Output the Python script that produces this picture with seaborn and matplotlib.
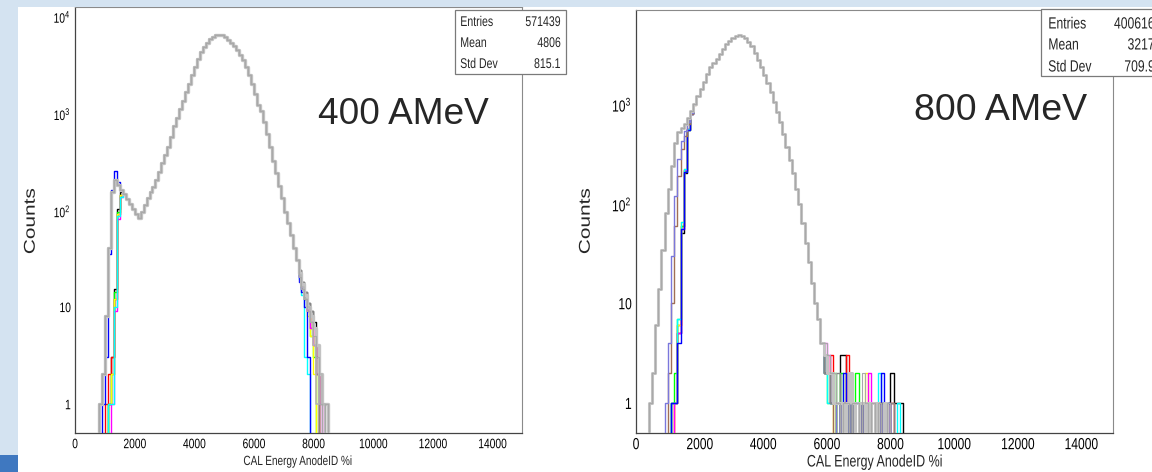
import numpy as np
import pandas as pd
import matplotlib
matplotlib.use("Agg")
import matplotlib.pyplot as plt
import seaborn as sns
from matplotlib.patches import Rectangle
from matplotlib import font_manager, patheffects
from matplotlib.transforms import Affine2D

# ------------------------------------------------------------------ data
bin_width = 100
x_major = [0, 2000, 4000, 6000, 8000, 10000, 12000, 14000]
x_major_labels = ["0", "2000", "4000", "6000", "8000", "10000", "12000", "14000"]
y_major = [1, 10, 100, 1000, 10000]
y_major_labels = ["1", "10", r"$\mathregular{10^{2}}$", r"$\mathregular{10^{3}}$", r"$\mathregular{10^{4}}$"]
x_title = "CAL Energy AnodeID %i"
y_title = "Counts"

# ---- 400 AMeV panel
left_label = "400 AMeV"
left_stats_names = ["Entries", "Mean", "Std Dev"]
left_stats_values = ["571439", "4806", "815.1"]
left_core_start = 800
left_core = [1, 2, 8, 40, 150, 200, 180, 160, 143, 127, 113, 100, 90, 82, 95, 110,
             130, 150, 170, 200, 240, 300, 360, 440, 560, 720, 880, 1070, 1310, 1600,
             1960, 2400, 2950, 3550, 4150, 4700, 5200, 5700, 6000, 6300, 6300, 6200,
             5900, 5500, 5100, 4750, 4350, 3900, 3450, 2950, 2400, 1950, 1550, 1200,
             1020, 800, 600, 440, 316, 235, 175, 130, 95, 72, 54, 40, 30]
# heads: first bins (800..1500) of channels with a later threshold
left_head_black = [0, 0, 0, 1, 3, 15, 100, 150]
left_head_red = [0, 0, 1, 2, 3, 12, 90, 140]
left_head_green = [0, 0, 0, 1, 2, 14, 95, 140]
left_head_blue = [0, 1, 3, 35, 160, 250, 190, 160]
left_head_yellow = [0, 0, 0, 1, 2, 12, 90, 140]
left_head_magenta = [0, 0, 0, 0, 1, 9, 80, 135]
left_head_cyan = [0, 0, 0, 1, 1, 10, 85, 135]
# tails: bins 7500..8400
left_tail_black = [24, 18, 14, 11, 9, 7, 3, 0, 0, 0]
left_tail_red = [20, 15, 12, 9, 6, 4, 2, 0, 0, 0]
left_tail_green = [21, 16, 12, 10, 5, 3, 0, 0, 0, 0]
left_tail_blue = [18, 14, 10, 3, 0, 0, 0, 0, 0, 0]
left_tail_yellow = [22, 16, 12, 8, 5, 2, 0, 0, 0, 0]
left_tail_magenta = [20, 16, 13, 9, 6, 4, 2, 1, 0, 0]
left_tail_cyan = [19, 13, 3, 2, 0, 0, 0, 0, 0, 0]
left_tail_gray1 = [22, 17, 13, 10, 8, 6, 4, 2, 1, 1]
left_tail_gray2 = [20, 15, 12, 9, 7, 5, 3, 1, 0, 1]
left_tail_gray3 = [24, 18, 14, 11, 9, 6, 2, 0, 1, 0]
left_tail_gray4 = [21, 16, 12, 10, 7, 4, 1, 2, 1, 0]

# ---- 800 AMeV panel
right_label = "800 AMeV"
right_stats_names = ["Entries", "Mean", "Std Dev"]
right_stats_values = ["400616", "3217", "709.9"]
right_core_start = 400
right_core = [1, 2, 6, 14, 34, 80, 140, 240, 400, 520, 575, 630, 720, 850, 1000, 1200,
              1400, 1650, 2000, 2350, 2570, 2800, 3150, 3550, 3950, 4300, 4550, 4750,
              4850, 4800, 4600, 4200, 3750, 3250, 2750, 2350, 1950, 1620, 1320, 1050,
              830, 650, 500, 370, 275, 200, 140, 98, 63, 40, 26, 16, 10, 7, 4]
# heads: bins 400..1900
right_head_lavender = [0, 0, 0, 0, 0, 1, 4, 30, 120, 280, 420, 530, 660, 810, 990, 1200]
right_head_brown = [0, 0, 0, 0, 0, 0, 2, 10, 60, 190, 350, 480, 620, 780, 970, 1200]
right_head_black = [0, 0, 0, 0, 0, 0, 0, 1, 1, 5, 50, 200, 540, 790, 1000, 1200]
right_head_red = [0, 0, 0, 0, 0, 0, 0, 0, 1, 6, 60, 215, 560, 800, 1000, 1200]
right_head_green = [0, 0, 0, 0, 0, 0, 0, 1, 2, 7, 60, 210, 550, 800, 990, 1200]
right_head_blue = [0, 0, 0, 0, 0, 0, 0, 1, 1, 4, 55, 205, 540, 790, 1000, 1200]
right_head_yellow = [0, 0, 0, 0, 0, 0, 0, 0, 1, 6, 65, 220, 560, 800, 1000, 1200]
right_head_magenta = [0, 0, 0, 0, 0, 0, 0, 0, 1, 5, 55, 215, 560, 800, 1000, 1200]
right_head_cyan = [0, 0, 0, 0, 0, 0, 0, 1, 1, 7, 65, 220, 560, 810, 1000, 1200]
# tails: bins 5900..8400
right_tail_gray1 = [3, 2, 2, 1, 1, 1, 0, 1, 2, 1, 0, 1, 1, 0, 1, 0, 1, 0, 0, 1, 0, 0, 0, 0, 0, 0]
right_tail_gray2 = [4, 3, 2, 2, 1, 0, 1, 1, 0, 1, 1, 0, 2, 1, 0, 1, 0, 1, 0, 0, 1, 0, 0, 0, 0, 0]
right_tail_gray3 = [2, 2, 1, 1, 2, 1, 1, 0, 1, 0, 1, 1, 0, 1, 1, 0, 0, 1, 1, 0, 0, 1, 0, 0, 0, 0]
right_tail_lavender = [3, 2, 1, 1, 0, 1, 0, 1, 0, 1, 0, 0, 1, 0, 0, 1, 0, 0, 1, 0, 0, 0, 0, 0, 0, 0]
right_tail_brown = [2, 2, 1, 0, 1, 0, 1, 0, 0, 1, 0, 1, 0, 0, 1, 0, 0, 1, 0, 0, 0, 1, 0, 0, 0, 0]
right_tail_black = [3, 2, 2, 1, 1, 3, 3, 0, 1, 0, 0, 1, 0, 0, 1, 0, 0, 0, 1, 0, 1, 2, 1, 1, 1, 0]
right_tail_red = [2, 2, 3, 1, 0, 1, 1, 3, 0, 1, 0, 0, 1, 0, 0, 1, 0, 1, 0, 0, 0, 1, 0, 0, 0, 0]
right_tail_green = [2, 1, 1, 2, 0, 2, 0, 1, 0, 1, 2, 1, 0, 1, 0, 0, 1, 0, 0, 1, 0, 0, 0, 0, 0, 0]
right_tail_blue = [2, 2, 1, 1, 1, 0, 2, 1, 0, 0, 1, 0, 1, 0, 1, 0, 0, 0, 2, 0, 1, 0, 0, 0, 0, 0]
right_tail_yellow = [3, 2, 1, 0, 1, 0, 0, 1, 0, 0, 0, 0, 0, 2, 0, 0, 1, 0, 0, 0, 0, 0, 0, 0, 0, 0]
right_tail_magenta = [4, 3, 2, 1, 1, 0, 1, 0, 1, 0, 0, 1, 0, 0, 2, 0, 1, 0, 0, 0, 1, 0, 0, 0, 0, 0]
right_tail_cyan = [2, 1, 1, 1, 0, 1, 0, 0, 1, 0, 0, 1, 0, 0, 0, 0, 0, 2, 0, 0, 1, 0, 0, 1, 0, 0]

# ------------------------------------------------------------------ style
sns.set_style("white")
avail = {f.name for f in font_manager.fontManager.ttflist}
REG = "Liberation Sans" if "Liberation Sans" in avail else "DejaVu Sans"
plt.rcParams["font.family"] = [REG, "DejaVu Sans"]
SQ = 0.75   # the ROOT canvases are shown horizontally squeezed


class Squeeze(patheffects.AbstractPathEffect):
    """Draw the text squeezed horizontally about its alignment point."""

    def __init__(self, sx, anchor="center"):
        super().__init__()
        self.sx = sx
        self.anchor = anchor

    def draw_path(self, renderer, gc, tpath, affine, rgbFace=None):
        verts = tpath.vertices
        if tpath.codes is not None:
            verts = verts[tpath.codes != 79]
        if len(verts) == 0:
            renderer.draw_path(gc, tpath, affine, rgbFace)
            return
        v = affine.transform(verts)
        xmin, xmax = v[:, 0].min(), v[:, 0].max()
        x0 = {"left": xmin, "right": xmax, "center": 0.5 * (xmin + xmax)}[self.anchor]
        aff = affine + Affine2D().translate(-x0, 0).scale(self.sx, 1).translate(x0, 0)
        renderer.draw_path(gc, tpath, aff, rgbFace)


C = {"black": "#000000", "red": "#ff0000", "green": "#00ff00", "blue": "#0000ff",
     "yellow": "#ffff00", "magenta": "#ff00ff", "cyan": "#00ffff",
     "lavender": "#7b78dc", "brown": "#a06f55",
     "gray1": "#c3c3c3", "gray2": "#a9a9a9", "gray3": "#858585", "gray4": "#b6b6b6"}

W, H = 1152, 472
fig = plt.figure(figsize=(W / 100, H / 100), dpi=100)
fig.patch.set_facecolor("white")
renderer = fig.canvas.get_renderer()


def size_for(text, target_w, base=10.0):
    t = fig.text(0, 0, text, fontsize=base, family=[REG])
    w = t.get_window_extent(renderer=renderer).width
    t.remove()
    return base * target_w / w


# slide frame decoration
fig.patches.append(Rectangle((0, 1 - 7 / H), 1, 7 / H, transform=fig.transFigure,
                             facecolor="#d4e3f1", edgecolor="none", zorder=0))
fig.patches.append(Rectangle((0, 0), 18 / W, 1, transform=fig.transFigure,
                             facecolor="#d4e3f1", edgecolor="none", zorder=0))
fig.patches.append(Rectangle((0, 0), 18 / W, 17 / H, transform=fig.transFigure,
                             facecolor="#3f78c0", edgecolor="none", zorder=0))


def build(start, core, head, tail):
    counts = list(core)
    if head is not None:
        counts[:len(head)] = head
    counts = counts + list(tail)
    y = [0] + counts + [0, 0]
    x = start - bin_width + bin_width * np.arange(len(y))
    return pd.DataFrame({"x": x, "y": y})


def draw(ax, start, core, channels):
    for head, tail, color, lw in channels:
        df = build(start, core, head, tail)
        sns.lineplot(data=df, x="x", y="y", ax=ax, color=color, lw=lw,
                     drawstyle="steps-post", estimator=None, sort=False,
                     legend=False, zorder=3)


def style_axes(ax, ytop, fs):
    ax.set_yscale("log", nonpositive="clip")
    ax.set_xlim(0, 15000)
    ax.set_xticks(x_major)
    ax.set_xticklabels(x_major_labels)
    ax.set_xticks(np.arange(0, 15001, 500), minor=True)
    ax.set_yticks(y_major)
    ax.set_yticklabels(y_major_labels)
    ax.set_yticks([m * 10.0 ** e for e in range(-1, 5) for m in range(2, 10)], minor=True)
    ax.yaxis.set_minor_formatter(matplotlib.ticker.NullFormatter())
    ax.set_ylim(0.5, ytop)
    ax.tick_params(which="both", direction="in", top=False, right=False,
                   labelsize=fs, colors="#333333", labelcolor="black", width=0.8)
    ax.tick_params(axis="y", which="major", length=9, pad=3)
    ax.tick_params(axis="y", which="minor", length=5)
    ax.tick_params(axis="x", which="major", length=8.5, pad=3)
    ax.tick_params(axis="x", which="minor", length=4.5)
    for lbl in ax.get_xticklabels():
        lbl.set_path_effects([Squeeze(SQ, "center")])
    for lbl in ax.get_yticklabels():
        lbl.set_path_effects([Squeeze(SQ, "right")])
    for s in ["left", "bottom"]:
        ax.spines[s].set_color("#444444")
        ax.spines[s].set_linewidth(0.9)
    for s in ["top", "right"]:
        ax.spines[s].set_color("#8a8a8a")
        ax.spines[s].set_linewidth(0.8)
    ax.set_xlabel("")
    ax.set_ylabel("")
    ax.set_facecolor("white")


# ---------------- left panel
axL = fig.add_axes([75 / W, 1 - 433 / H, 447 / W, 426 / H])
left_channels = [
    (left_head_black, left_tail_black, C["black"], 1.0),
    (left_head_red, left_tail_red, C["red"], 1.0),
    (left_head_green, left_tail_green, C["green"], 1.0),
    (left_head_yellow, left_tail_yellow, C["yellow"], 1.0),
    (left_head_magenta, left_tail_magenta, C["magenta"], 1.0),
    (left_head_cyan, left_tail_cyan, C["cyan"], 1.0),
    (left_head_blue, left_tail_blue, C["blue"], 1.0),
    (None, left_tail_gray3, C["gray3"], 1.0),
    (None, left_tail_gray1, C["gray1"], 2.4),
    (None, left_tail_gray4, C["gray4"], 1.2),
    (None, left_tail_gray2, C["gray2"], 0.8),
]
draw(axL, left_core_start, left_core, left_channels)
style_axes(axL, 12100, size_for("2000", 23 / SQ))

# ---------------- right panel
axR = fig.add_axes([636 / W, 1 - 433 / H, 477 / W, 423 / H])
right_channels = [
    (right_head_black, right_tail_black, C["black"], 1.0),
    (right_head_red, right_tail_red, C["red"], 1.0),
    (right_head_green, right_tail_green, C["green"], 1.0),
    (right_head_yellow, right_tail_yellow, C["yellow"], 1.0),
    (right_head_magenta, right_tail_magenta, C["magenta"], 1.0),
    (right_head_cyan, right_tail_cyan, C["cyan"], 1.0),
    (right_head_blue, right_tail_blue, C["blue"], 1.0),
    (right_head_brown, right_tail_brown, C["brown"], 1.0),
    (right_head_lavender, right_tail_lavender, C["lavender"], 1.0),
    (None, right_tail_gray3, C["gray3"], 1.0),
    (None, right_tail_gray1, C["gray1"], 2.2),
    (None, right_tail_gray2, C["gray2"], 0.8),
]
draw(axR, right_core_start, right_core, right_channels)
style_axes(axR, 8700, size_for("2000", 27 / SQ))


# ---------------- texts (pixel positions)
def px(x, y):
    return x / W, 1 - y / H


def root_text(x, y, s, width_px, ha="center", rotation=0, fs=None, **kw):
    if fs is None:
        fs = size_for(s, width_px / SQ)
    t = fig.text(*px(x, y), s, ha=ha, va="center", rotation=rotation, fontsize=fs,
                 family=[REG], **kw)
    t.set_path_effects([Squeeze(SQ, ha)])
    return t


root_text(298, 462, x_title, 109)
root_text(875, 462, x_title, 136)
cfs = size_for(y_title, 66)
root_text(31, 221, y_title, None, rotation=90, fs=cfs)
root_text(586, 221, y_title, None, rotation=90, fs=cfs)

fig.text(*px(318, 115), left_label, ha="left", va="center",
         fontsize=size_for(left_label, 171), family=[REG])
fig.text(*px(914, 111), right_label, ha="left", va="center",
         fontsize=size_for(right_label, 173), family=[REG])


# stats boxes
def stats_box(x0, y0, x1, y1, names, values, rows_y, xl, xr, fs):
    fig.patches.append(Rectangle(px(x0, y1), (x1 - x0) / W, (y1 - y0) / H,
                                 transform=fig.transFigure, facecolor="white",
                                 edgecolor="#7a7a7a", lw=0.9, zorder=5))
    for n, v, yy in zip(names, values, rows_y):
        root_text(xl, yy, n, None, ha="left", fs=fs, zorder=6)
        root_text(xr, yy, v, None, ha="right", fs=fs, zorder=6)


stats_box(455, 10, 566, 74, left_stats_names, left_stats_values, [22, 43, 64], 460, 561,
          size_for("Entries", 33 / SQ))
stats_box(1041, 9, 1170, 76, right_stats_names, right_stats_values, [24, 45, 67], 1048, 1155,
          size_for("Entries", 38 / SQ))

fig.savefig("out.png", dpi=100, facecolor=fig.get_facecolor())
